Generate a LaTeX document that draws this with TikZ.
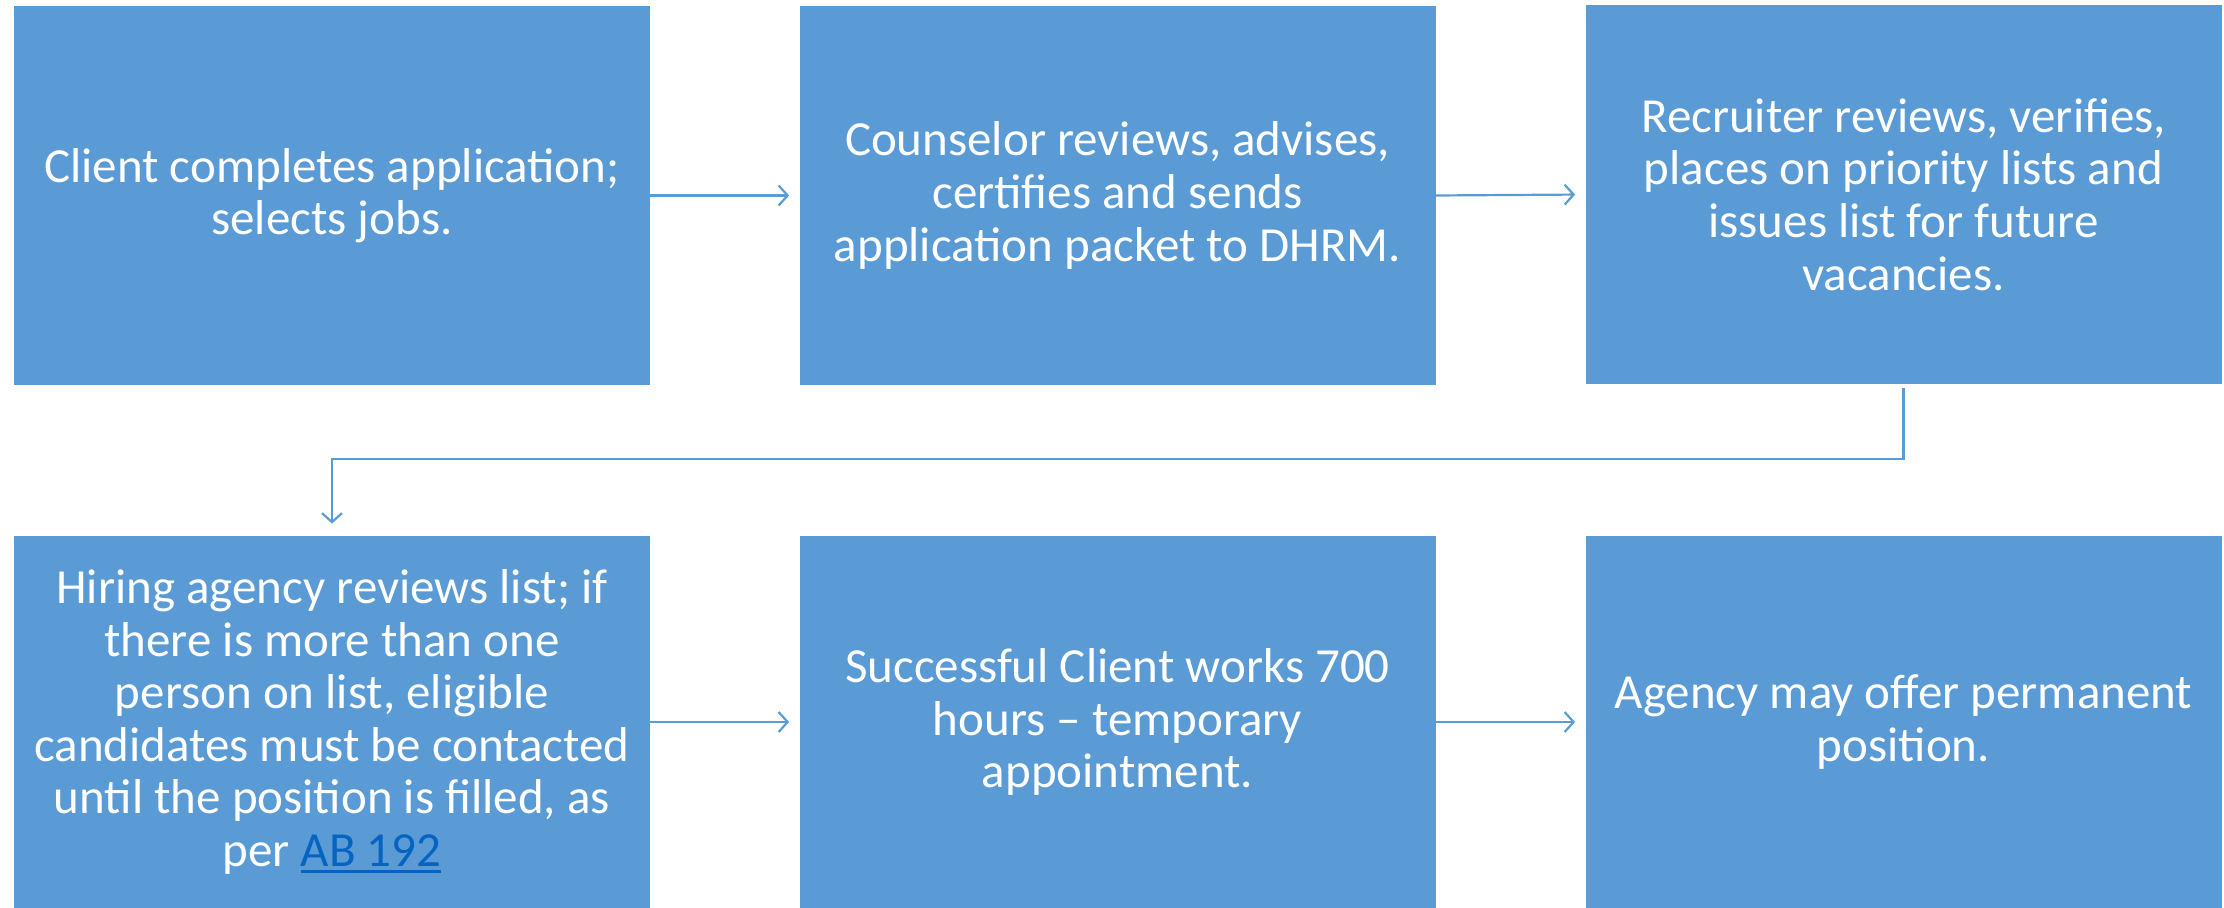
\documentclass[tikz,border=0pt]{standalone}
\usepackage{fontspec}
\setmainfont{Carlito}
\usetikzlibrary{arrows.meta}
\definecolor{boxblue}{HTML}{5B9BD5}
\definecolor{linkblue}{HTML}{0563C1}
\newcommand\linkul[1]{\setbox0\hbox{#1}\rlap{\rule[-3.2pt]{\wd0}{1.6pt}}\box0}
\tikzset{
  stepbox/.style={rectangle, fill=boxblue, draw=none, inner sep=0pt,
    minimum width=318pt, minimum height=189.5pt, text=white, align=center,
    font=\fontsize{24.5}{26.3}\selectfont},
  flow/.style={draw=boxblue, line width=1.1pt, -{Straight Barb[length=4.5pt,width=10pt,line width=1.1pt]}}
}
\begin{document}
\begin{tikzpicture}[x=0.5pt,y=-0.5pt]
\useasboundingbox (0,0) rectangle (2224,908);
\node[stepbox] (b1) at (332,195.5) {Client completes application;\\selects jobs.};
\node[stepbox] (b2) at (1117.5,195.5) {Counselor reviews, advises,\\certifies and sends\\application packet to DHRM.};
\node[stepbox] (b3) at (1903.5,194.5) {Recruiter reviews, verifies,\\places on priority lists and\\issues list for future\\vacancies.};
\node[stepbox, minimum height=186pt] (b4) at (332,722) {Hiring agency reviews list; if\\there is more than one\\person on list, eligible\\candidates must be contacted\\until the position is filled, as\\per {\color{linkblue}\linkul{AB 192}}};
\node[stepbox, minimum height=186pt] (b5) at (1117.5,722) {Successful Client works 700\\hours -- temporary\\appointment.};
\node[stepbox, minimum height=186pt] (b6) at (1903.5,722) {Agency may offer permanent\\position.};
\draw[flow, shorten >=5pt] (b1.east) -- (b2.west);
\draw[flow, shorten >=5pt] (b2.east) -- (b3.west);
\draw[flow, shorten >=6pt, shorten <=2pt] (b3.south) -- ++(0,75) -| (b4.north);
\draw[flow, shorten >=5pt] (b4.east) -- (b5.west);
\draw[flow, shorten >=5pt] (b5.east) -- (b6.west);
\end{tikzpicture}
\end{document}
